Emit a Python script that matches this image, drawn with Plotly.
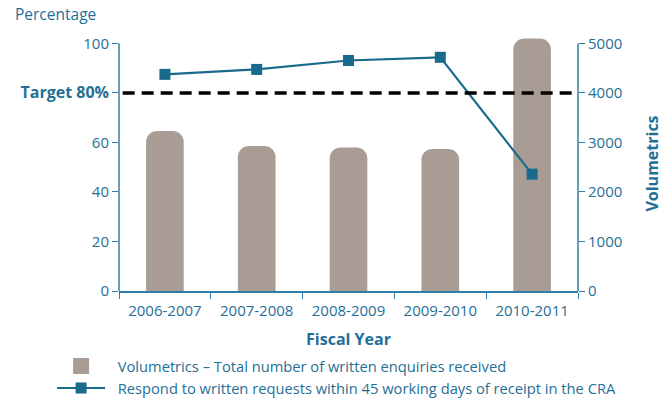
import plotly.graph_objects as go

# Fiscal years and series values
years = ["2006-2007", "2007-2008", "2008-2009", "2009-2010", "2010-2011"]
volumetrics = [3230, 2930, 2900, 2870, 5100]          # written enquiries received
pct_within_45 = [87.5, 89.5, 93.1, 94.4, 47.2]        # % answered within 45 working days
target_pct = 80

left_ticks = [0, 20, 40, 60, 80, 100]
left_ticktext = ["0", "20", "40", "60",
                 "<span style='font-size:16px'><b>Target 80%</b></span>", "100"]
right_ticks = [0, 1000, 2000, 3000, 4000, 5000]

BAR_NAME = "Volumetrics – Total number of written enquiries received"
LINE_NAME = "Respond to written requests within 45 working days of receipt in the CRA"
PAD = "\u00a0\u00a0"  # small gap between legend swatch and label

BLUE_TEXT = "#1f6f97"
BLUE_LINE = "#1a6a8e"
AXIS_BLUE = "#2f7ea5"
BAR_GREY = "#a89c94"
FONT = "Open Sans"

fig = go.Figure()

# Legend entry for the bars, with a larger swatch than the default bar glyph
fig.add_trace(go.Scatter(
    x=[None], y=[None], mode="markers", name=PAD + BAR_NAME,
    marker=dict(symbol="square", size=16, color=BAR_GREY),
))

# Volumetrics bars (right axis)
fig.add_trace(go.Bar(
    x=years, y=volumetrics, yaxis="y",
    name=BAR_NAME, showlegend=False,
    marker=dict(color=BAR_GREY, cornerradius=11, line=dict(width=0)),
    width=0.41,
))

# Percentage line (left axis, drawn over the bars)
fig.add_trace(go.Scatter(
    x=years, y=pct_within_45, yaxis="y2",
    mode="lines+markers", name=PAD + LINE_NAME,
    line=dict(color=BLUE_LINE, width=2.2),
    marker=dict(symbol="square", size=11, color=BLUE_LINE),
))

# Axis spines stop at the top tick
fig.add_shape(type="line", xref="paper", x0=0, x1=0, yref="y2", y0=0, y1=100,
              line=dict(color=AXIS_BLUE, width=1.5))
fig.add_shape(type="line", xref="paper", x0=1, x1=1, yref="y", y0=0, y1=5000,
              line=dict(color=AXIS_BLUE, width=1.5))
# Target line
fig.add_shape(type="line", xref="paper", x0=0.008, x1=1, yref="y2", y0=target_pct, y1=target_pct,
              line=dict(color="black", width=3.5, dash="12px,7px"))

fig.update_layout(
    width=668, height=398,
    margin=dict(l=119, r=90, t=36, b=107, autoexpand=False),
    paper_bgcolor="white", plot_bgcolor="white",
    font=dict(family=FONT, size=15, color=BLUE_TEXT),
    xaxis=dict(
        type="category", tickson="boundaries", ticks="outside", ticklen=6,
        tickcolor=AXIS_BLUE, showline=True, linecolor=AXIS_BLUE, linewidth=1.5,
        showgrid=False, zeroline=False, ticklabelstandoff=5,
        tickfont=dict(size=15, color=BLUE_TEXT),
        title=dict(text="<b>Fiscal Year</b>", font=dict(size=16, color=BLUE_TEXT), standoff=15),
    ),
    yaxis=dict(
        range=[0, 5150], tickvals=right_ticks, side="right",
        ticks="outside", ticklen=6, tickcolor=AXIS_BLUE, showline=False,
        showgrid=False, zeroline=False,
        tickfont=dict(size=15, color=BLUE_TEXT),
        title=dict(text="<b>Volumetrics</b>", font=dict(size=16, color=BLUE_TEXT), standoff=25),
    ),
    yaxis2=dict(
        range=[0, 103], tickvals=left_ticks, ticktext=left_ticktext,
        overlaying="y", side="left",
        ticks="outside", ticklen=6, tickcolor=AXIS_BLUE, showline=False,
        showgrid=False, zeroline=False,
        tickfont=dict(size=15, color=BLUE_TEXT),
    ),
    legend=dict(
        orientation="v", xref="container", yref="container",
        x=0.078, xanchor="left", y=0.121, yanchor="top",
        font=dict(size=14.7, color=BLUE_TEXT), itemwidth=48, tracegroupgap=0,
        bgcolor="rgba(0,0,0,0)",
    ),
    annotations=[dict(
        text="Percentage", xref="paper", yref="paper", x=-0.23, y=1.0,
        xanchor="left", yanchor="middle", showarrow=False, yshift=22,
        font=dict(size=15.5, color=BLUE_TEXT),
    )],
)

fig.write_html("out.html")
